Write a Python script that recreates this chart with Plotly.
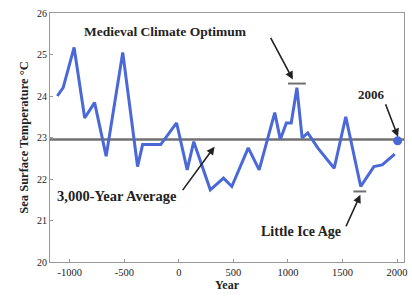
import plotly.graph_objects as go

years = [-1115, -1061, -961, -864, -773, -667, -515, -379, -333, -167, -21, 76, 136,
         288, 409, 485, 636, 736, 879, 930, 985, 1030, 1082, 1130, 1182, 1273,
         1424, 1530, 1667, 1788, 1864, 1979]
temps = [24.0, 24.2, 25.17, 23.47, 23.84, 22.55, 25.05, 22.3, 22.83, 22.83, 23.35, 22.22, 22.9,
         21.74, 22.02, 21.82, 22.75, 22.22, 23.6, 22.95, 23.35, 23.35, 24.2, 22.99, 23.11, 22.75,
         22.26, 23.5, 21.82, 22.3, 22.34, 22.6]
average_temp = 22.95
point_2006 = (2006, 22.92)
mco_bar_years = [1000, 1164]
mco_bar_temp = 24.3
lia_bar_years = [1600, 1718]
lia_bar_temp = 21.7

x_ticks = [-1000, -500, 0, 500, 1000, 1500, 2000]
x_ticktext = ["-1000", "-500", "0", "500", "1000", "1500", "2000"]
y_ticks = [20, 21, 22, 23, 24, 25, 26]

FONT = "Liberation Serif"
BLUE = "#4a68d8"
GREY = "#707070"

fig = go.Figure()
fig.add_trace(go.Scatter(x=[-1182, 2064], y=[average_temp, average_temp], mode="lines",
                         line=dict(color=GREY, width=2.5), hoverinfo="skip"))
fig.add_trace(go.Scatter(x=years, y=temps, mode="lines",
                         line=dict(color=BLUE, width=3)))
fig.add_trace(go.Scatter(x=[point_2006[0]], y=[point_2006[1]], mode="markers",
                         marker=dict(color=BLUE, size=9), cliponaxis=False))
for bx, by in [(mco_bar_years, mco_bar_temp), (lia_bar_years, lia_bar_temp)]:
    fig.add_trace(go.Scatter(x=bx, y=[by, by], mode="lines",
                             line=dict(color=GREY, width=2)))

ann = [
    dict(x=1045, y=24.4, ax=-23, ay=-43),
    dict(x=2009, y=23.02, ax=-13, ay=-34),
    dict(x=327, y=22.78, ax=-33, ay=45),
    dict(x=1664, y=21.62, ax=-15, ay=33),
]
for a in ann:
    fig.add_annotation(x=a["x"], y=a["y"], ax=a["ax"], ay=a["ay"], xref="x", yref="y",
                       showarrow=True, arrowhead=2, arrowsize=1, arrowwidth=1.6,
                       arrowcolor="#222", text="")

PL, PR, PT, PB = 50, 407, 13, 262
texts = [
    ("<b>Medieval Climate Optimum</b>", 166, 31, 13.5),
    ("<b>2006</b>", 374, 94, 13),
    ("<b>3,000-Year Average</b>", 118, 196, 14.5),
    ("<b>Little Ice Age</b>", 303, 231, 14),
]
for t, px, py, fs in texts:
    fig.add_annotation(text=t, x=(px - PL) / (PR - PL), y=(PB - py) / (PB - PT),
                       xref="paper", yref="paper",
                       showarrow=False, font=dict(family=FONT, size=fs, color="#222"),
                       xanchor="center", yanchor="middle")

fig.update_layout(
    width=412, height=296,
    margin=dict(l=50, r=5, t=13, b=34),
    paper_bgcolor="white", plot_bgcolor="white",
    showlegend=False,
    font=dict(family=FONT, size=10, color="#222"),
    xaxis=dict(range=[-1182, 2064], tickvals=x_ticks, ticktext=x_ticktext,
               showgrid=False, zeroline=False, showline=True, linecolor="#999",
               linewidth=1, mirror=True, ticks="inside", ticklen=3, tickcolor="#999",
               tickfont=dict(family=FONT, size=10.5),
               title=dict(text="<b>Year</b>", font=dict(family=FONT, size=12), standoff=3)),
    yaxis=dict(range=[20, 26], tickvals=y_ticks,
               showgrid=False, zeroline=False, showline=True, linecolor="#999",
               linewidth=1, mirror=True, ticks="inside", ticklen=3, tickcolor="#999",
               tickfont=dict(family=FONT, size=10),
               title=dict(text="<b>Sea Surface Temperature °C</b>",
                          font=dict(family=FONT, size=12.5), standoff=5)),
)
fig.write_html("out.html", config={"displayModeBar": False},
               post_script="document.body.style.margin='0';")
